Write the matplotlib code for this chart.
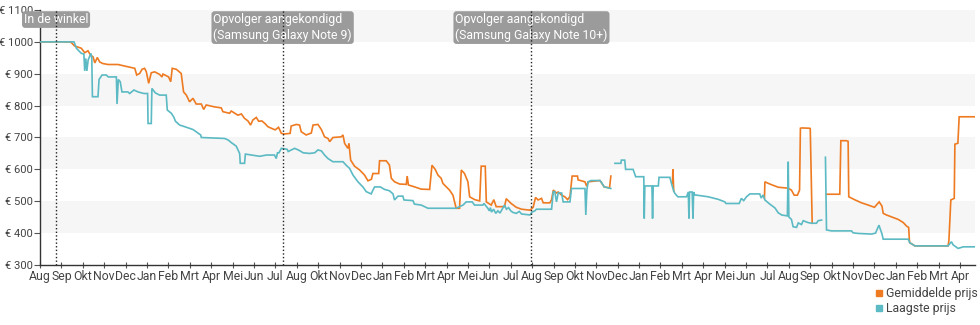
import numpy as np
import matplotlib
matplotlib.use("Agg")
import matplotlib.pyplot as plt
from matplotlib.lines import Line2D
from matplotlib.transforms import blended_transform_factory

plt.rcParams['font.family'] = ['Roboto', 'DejaVu Sans']

ORANGE = '#ee7b22'
TEAL = '#5bbac3'
TEXT = '#444444'
nan = np.nan

# Month labels along the time axis (one per tick, months counted from the first tick)
month_labels = ["Aug", "Sep", "Okt", "Nov", "Dec", "Jan", "Feb", "Mrt", "Apr", "Mei", "Jun", "Jul",
                "Aug", "Okt", "Nov", "Dec", "Jan", "Feb", "Mrt", "Apr", "Mei", "Jun", "Jul",
                "Aug", "Sep", "Okt", "Nov", "Dec", "Jan", "Feb", "Mrt", "Apr", "Mei", "Jun", "Jul",
                "Aug", "Sep", "Okt", "Nov", "Dec", "Jan", "Feb", "Mrt", "Apr"]

price_ticks = [300, 400, 500, 600, 700, 800, 900, 1000, 1100]

# Lowest price (time in months, price in euro); NaN marks a gap in the data
low_t = [0, 1.59, 1.70, 1.93, 2.05, 2.09, 2.14, 2.19, 2.25, 2.38, 2.42, 2.45, 2.71, 2.76, 2.90, 3.10,
         3.19, 3.57, 3.60, 3.66, 3.75, 3.83, 4.11, 4.19, 4.39, 4.58, 4.86, 5.03, 5.05, 5.20, 5.23,
         5.39, 5.59, 5.90, 5.95, 6.14, 6.26, 6.33, 6.53, 6.76, 7.15, 7.51, 7.54, 8.63, 8.80, 8.94,
         9.17, 9.33, 9.36, 9.56, 9.60, 9.88, 10.27, 10.58, 10.96, 11.04, 11.10, 11.17, 11.28, 11.55,
         11.60, 11.90, 12.10, 12.30, 12.60, 12.84, 12.99, 13.15, 13.30, 13.46, 13.69, 14.16, 14.31,
         14.47, 14.63, 14.86, 15.09, 15.25, 15.48, 15.56, 15.64, 15.90, 16.11, 16.33, 16.50, 16.57,
         16.73, 16.96, 17.01, 17.43, 17.50, 17.82, 18.13, 19.45, 19.77, 19.92, 20.20, 20.31, 20.70,
         20.75, 20.93, 21.00, 21.05, 21.10, 21.20, 21.30, 21.40, 21.50, 21.71, 21.80, 21.90, 22.00,
         22.10, 22.26, 22.40, 22.51, 22.90, 23.00, 23.13, 23.20, 23.91, 23.99, 24.06, 24.14, 24.22,
         24.38, 24.45, 24.77, 24.84, 25.47, 25.51, 25.56, 25.62, 25.75, 26.17, 26.25, 26.37, 26.68,
         26.78,
         26.87, 27.15, 27.17, 27.33, 27.37, 27.72, 27.84, 28.22, 28.24, 28.27, 28.60, 28.63, 28.66,
         28.90, 28.93, 29.44, 29.52, 29.62, 29.67, 29.81, 30.22, 30.30, 30.33, 30.36, 30.48, 30.52,
         30.55, 30.60, 31.23, 31.70, 32.01, 32.06, 32.68, 32.78, 32.89, 33.02, 33.18, 33.64, 33.71,
         33.80, 33.88, 34.11, 34.35, 34.50, 34.66, 34.93, 34.97, 35.00, 35.12, 35.20, 35.36, 35.44,
         35.59, 35.67, 35.90, 36.06, 36.29, 36.37, 36.53,
         36.62,
         36.71, 36.76, 36.99, 37.93, 38.00, 38.24, 38.86, 39.05, 39.21, 39.35, 39.41, 40.58, 40.65,
         40.89, 42.44, 42.60, 42.68, 42.91, 43.15, 43.70]
low_p = [1000, 1000, 980, 964, 962, 909, 948, 909, 943, 964, 950, 828, 828, 882, 896, 896,
         890, 890, 805, 882, 875, 843, 843, 838, 849, 843, 838, 838, 744, 744, 854,
         840, 833, 833, 786, 776, 763, 751, 739, 734, 725, 708, 700, 697, 692, 684,
         673, 650, 619, 619, 648, 645, 641, 645, 645, 634, 652, 652, 666, 663,
         656, 666, 660, 652, 650, 652, 661, 658, 645, 634, 624, 624, 613,
         603, 582, 561, 545, 530, 523, 535, 545, 545, 537, 533, 523, 504,
         516, 516, 504, 502, 491, 488, 478, 478, 488, 498, 498, 488, 488,
         493, 478, 470, 480, 466, 475, 462, 470, 463, 488, 475, 480, 470,
         465, 462, 468, 460, 457, 466, 470, 475, 475, 530, 530, 498, 526,
         526, 498, 498, 540, 540, 457, 535, 561, 565, 565, 558, 545, 540,
         nan,
         619, 619, 629, 629, 600, 600, 577, 577, 446, 548, 548, 446, 548,
         548, 575, 575, 554, 532, 525, 514, 514, 529, 446, 529, 529, 446,
         529, 520, 514, 506, 498, 493, 493, 509, 502, 514, 523, 523, 510,
         520, 504, 491, 479, 464, 457, 454, 624, 451, 443, 420, 418, 432,
         427, 439, 433, 431, 431, 439, 441,
         nan,
         638, 410, 407, 407, 401, 399, 397, 400, 425, 398, 381, 381, 370,
         360, 360, 373, 363, 352, 357, 357]

# Average price (time in months, price in euro); NaN marks where no average is shown
avg_t = [0, 1.43, 1.62, 1.93, 2.09, 2.24, 2.37, 2.48, 2.56, 2.68, 2.79, 2.94, 3.18, 3.64, 3.96,
         4.43, 4.52, 4.66, 4.77, 4.89, 4.97, 5.08, 5.20, 5.36, 5.59, 5.70, 5.75, 6.01, 6.11, 6.18,
         6.37, 6.60, 6.71, 6.84, 6.99, 7.15, 7.30, 7.54, 7.65, 7.77, 8.16, 8.47, 8.55, 8.86, 8.94,
         9.25, 9.41, 9.56, 9.72, 9.84, 9.95, 10.11, 10.22, 10.37, 10.51, 10.65, 10.81, 10.99, 11.15,
         11.28, 11.43, 11.69, 11.74, 11.98, 12.13, 12.21, 12.44, 12.68, 12.76, 12.99, 13.15, 13.30,
         13.46, 13.54, 13.69, 14.08, 14.16, 14.24, 14.39, 14.44, 14.52, 14.70, 14.94, 15.17, 15.33,
         15.49, 15.56, 15.83, 15.87, 16.18, 16.33, 16.42, 16.57, 16.81, 17.12, 17.16, 17.22, 17.51,
         17.82, 18.21, 18.32, 18.47, 18.60, 18.75, 18.83, 18.99, 19.14, 19.30, 19.45, 19.61, 19.69,
         19.84, 20.00, 20.08, 20.32, 20.55, 20.62, 20.81, 20.86, 21.09, 21.21, 21.32, 21.71, 21.79,
         22.02, 22.26, 22.51, 22.90, 23.05, 23.16, 23.28, 23.44, 23.52, 23.83, 23.91, 23.99, 24.14,
         24.22, 24.38, 24.53, 24.66, 24.77, 24.87, 25.12, 25.15, 25.47, 25.55, 25.62, 26.17, 26.37,
         26.62, 26.68,
         29.00,
         29.56, 29.58, 29.62,
         31.00,
         33.86, 33.88, 34.11, 34.50, 34.97, 35.12, 35.25, 35.40, 35.50, 35.54, 35.60, 35.98, 36.00,
         36.09,
         36.40,
         36.76, 37.38, 37.43, 37.69, 37.77, 37.80, 38.10, 38.40, 38.71, 39.00, 39.22, 39.35, 39.41,
         39.56, 39.80, 40.11, 40.35, 40.50, 40.60, 40.63, 40.65, 40.89, 42.44, 42.48, 42.57, 42.73,
         42.76, 42.90, 42.96, 43.70]
avg_p = [1000, 1000, 987, 980, 966, 972, 958, 953, 934, 951, 937, 932, 929, 929, 924,
         917, 896, 901, 914, 917, 906, 870, 903, 906, 898, 890, 899, 890, 875, 917,
         914, 901, 843, 833, 812, 823, 805, 805, 788, 802, 796, 793, 781, 776, 783,
         770, 774, 760, 752, 739, 755, 763, 751, 752, 744, 734, 729, 724, 732,
         713, 711, 713, 736, 741, 739, 718, 708, 714, 739, 741, 725, 702,
         697, 687, 700, 702, 708, 681, 666, 681, 629, 610, 598, 582, 564,
         569, 587, 587, 627, 627, 614, 572, 561, 554, 553, 579, 551, 545,
         538, 537, 613, 600, 582, 572, 556, 545, 535, 519, 478, 478, 598,
         587, 561, 514, 505, 501, 610, 610, 498, 488, 505, 483, 483, 508,
         493, 481, 475, 472, 481, 512, 504, 509, 495, 495, 505, 535, 526,
         529, 519, 514, 505, 515, 579, 579, 567, 561, 547, 561, 565, 545,
         542, 579,
         nan,
         556, 600, 532,
         nan,
         509, 561, 554, 544, 541, 535, 519, 519, 535, 729, 730, 729, 728,
         431,
         nan,
         522, 522, 690, 690, 688, 514, 504, 495, 488, 481, 498, 485, 462,
         457, 451, 443, 433, 422, 418, 381, 370, 360, 360, 376, 504, 509,
         679, 682, 765, 765]

# Events marked on the time axis
event_t = [0.75, 11.34, 22.97]
event_text = ["In de winkel",
              "Opvolger aangekondigd\n(Samsung Galaxy Note 9)",
              "Opvolger aangekondigd\n(Samsung Galaxy Note 10+)"]

fig = plt.figure(figsize=(9.8, 3.25), dpi=100)
ax = fig.add_axes([40 / 980, 60 / 325, 935 / 980, 255 / 325])

n_months = len(month_labels)
ax.set_xlim(0, 43.7)
ax.set_ylim(300, 1100)

# Alternating horizontal bands
for lo in (400, 600, 800, 1000):
    ax.axhspan(lo, lo + 100, color='#f6f6f6', lw=0, zorder=0)

ax.plot(avg_t, avg_p, color=ORANGE, lw=1.2, zorder=3, solid_joinstyle='miter')
ax.plot(low_t, low_p, color=TEAL, lw=1.2, zorder=4, solid_joinstyle='miter')

trans = blended_transform_factory(ax.transData, ax.transAxes)
for t, txt in zip(event_t, event_text):
    ax.axvline(t, color='#222222', lw=1.0, ls=(0, (1, 1.6)), zorder=6)
    ax.text(t, 0.988, txt, transform=trans, ha='center', va='top', ma='left',
            color='white', fontsize=8.8, linespacing=1.25, zorder=5,
            bbox=dict(boxstyle='round,pad=0.15,rounding_size=0.25', fc='#9b9b9b', ec='none'))

ax.set_xticks(np.arange(n_months))
ax.set_xticklabels(month_labels)
ax.set_yticks(price_ticks)
ax.set_yticklabels([f"€ {v}" for v in price_ticks])

ax.tick_params(axis='x', direction='inout', length=5, width=0.8, color='#555555',
               pad=1, labelsize=8.8, labelcolor=TEXT)
ax.tick_params(axis='y', direction='out', length=4, width=0.8, color='#555555',
               pad=1, labelsize=8.1, labelcolor=TEXT)

for side in ('top', 'right'):
    ax.spines[side].set_visible(False)
for side in ('left', 'bottom'):
    ax.spines[side].set_color('#333333')
    ax.spines[side].set_linewidth(1.0)

handles = [Line2D([], [], marker='s', ls='none', color=ORANGE, markersize=5),
           Line2D([], [], marker='s', ls='none', color=TEAL, markersize=5)]
fig.legend(handles, ["Gemiddelde prijs", "Laagste prijs"], loc='upper right',
           bbox_to_anchor=(0.998, 1 - 287 / 325), frameon=False, fontsize=8.8,
           handlelength=0.6, handletextpad=0.3, labelspacing=0.15, borderpad=0,
           borderaxespad=0, labelcolor=TEXT)

fig.savefig("out.png", dpi=100)
